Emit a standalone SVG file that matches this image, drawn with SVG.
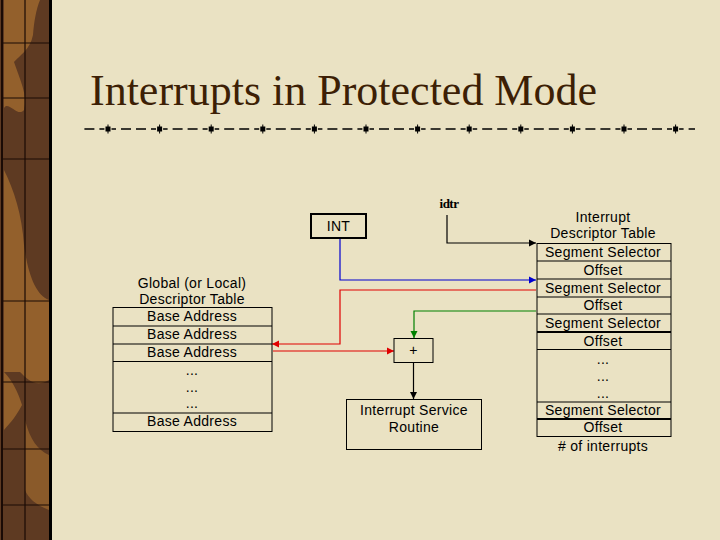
<svg xmlns="http://www.w3.org/2000/svg" width="720" height="540" viewBox="0 0 720 540">
<style>
.t{font-family:"Liberation Sans",Arial,sans-serif;font-size:14px;letter-spacing:0.3px;fill:#000;text-anchor:middle}
.box{fill:none;stroke:#000;stroke-width:1}
.row{stroke:#000;stroke-width:1}
.thick{stroke:#000;stroke-width:2}
.grid{stroke:#1a0a05;stroke-width:1.2}
</style>
<defs>
<marker id="ak" markerUnits="userSpaceOnUse" markerWidth="8" markerHeight="8" refX="7" refY="4" orient="auto"><path d="M0,0.5 L7,4 L0,7.5 z" fill="#000"/></marker>
<marker id="ab" markerUnits="userSpaceOnUse" markerWidth="8" markerHeight="8" refX="7" refY="4" orient="auto"><path d="M0,0.5 L7,4 L0,7.5 z" fill="#0000d0"/></marker>
<marker id="ar" markerUnits="userSpaceOnUse" markerWidth="8" markerHeight="8" refX="7" refY="4" orient="auto"><path d="M0,0.5 L7,4 L0,7.5 z" fill="#e00000"/></marker>
<marker id="ag" markerUnits="userSpaceOnUse" markerWidth="8" markerHeight="8" refX="7" refY="4" orient="auto"><path d="M0,0.5 L7,4 L0,7.5 z" fill="#008000"/></marker>
<g id="sq"><rect x="-2.5" y="-2.5" width="5" height="5" fill="#000"/><line x1="0" y1="-4.5" x2="0" y2="4.5" stroke="#000" stroke-width="1"/></g>
</defs>
<!-- background -->
<rect x="0" y="0" width="720" height="540" fill="#EAE2C3"/>
<!-- left border strip -->
<g id="border">
<rect x="0" y="0" width="49" height="540" fill="#5e3a22"/>
<path d="M0,0 L40,0 C36,10 34,22 33,35 C30,50 20,55 14,62 C20,80 28,95 24,110 C18,118 8,100 4,108 L4,0 Z" fill="#93602c"/>
<path d="M4,170 C14,190 22,215 24,245 C28,275 36,295 49,300 L49,380 C36,388 28,380 20,372 L4,372 Z" fill="#93602c"/>
<path d="M4,372 C12,380 18,392 22,405 C14,420 8,425 4,430 Z" fill="#93602c"/>
<path d="M25,420 C30,440 38,450 49,455 L49,510 C36,505 28,498 25,490 Z" fill="#8a5a2a"/>
<line x1="2" y1="0" x2="2" y2="540" stroke="#1a0a05" stroke-width="2"/>
<line x1="25" y1="0" x2="25" y2="540" class="grid"/>
<line x1="3" y1="43" x2="49" y2="43" class="grid"/>
<line x1="3" y1="98" x2="49" y2="98" class="grid"/>
<line x1="3" y1="159" x2="49" y2="159" class="grid"/>
<line x1="3" y1="301" x2="49" y2="301" class="grid"/>
<line x1="3" y1="382" x2="49" y2="382" class="grid"/>
<line x1="3" y1="449" x2="49" y2="449" class="grid"/>
<line x1="3" y1="505" x2="49" y2="505" class="grid"/>
<line x1="50.5" y1="0" x2="50.5" y2="540" stroke="#000" stroke-width="3"/>
</g>
<!-- title -->
<text x="90" y="105" font-family="'Liberation Serif','Times New Roman',serif" font-size="44" fill="#3d1f05" textLength="507" lengthAdjust="spacing">Interrupts in Protected Mode</text>
<!-- dashed rule -->
<g id="rule">
<line x1="83" y1="129" x2="695" y2="129" stroke="#000" stroke-width="1.3" stroke-dasharray="4.5 5 10 5 10 5 5 7.1" stroke-dashoffset="23.1"/>
<use href="#sq" x="108" y="129"/><use href="#sq" x="159.6" y="129"/><use href="#sq" x="211.2" y="129"/><use href="#sq" x="262.8" y="129"/>
<use href="#sq" x="314.4" y="129"/><use href="#sq" x="366" y="129"/><use href="#sq" x="417.6" y="129"/><use href="#sq" x="469.2" y="129"/>
<use href="#sq" x="520.8" y="129"/><use href="#sq" x="572.4" y="129"/><use href="#sq" x="624" y="129"/><use href="#sq" x="675.6" y="129"/>
</g>
<!-- connectors -->
<g id="connectors" fill="none" stroke-width="1.2">
<polyline points="447,215 447,243 536,243" stroke="#000" marker-end="url(#ak)"/>
<polyline points="340,238 340,280 536,280" stroke="#0000d0" marker-end="url(#ab)"/>
<polyline points="536,290 340,290 340,344 272,344" stroke="#e00000" marker-end="url(#ar)"/>
<line x1="273" y1="351" x2="394" y2="351" stroke="#e00000" marker-end="url(#ar)"/>
<polyline points="536,311 414,311 414,338" stroke="#008000" marker-end="url(#ag)"/>
<line x1="413.5" y1="362" x2="413.5" y2="399" stroke="#000" marker-end="url(#ak)"/>
</g>
<!-- idtr -->
<g id="idtr"><text x="449" y="208" font-family="'Liberation Serif','Times New Roman',serif" font-weight="bold" font-size="13" text-anchor="middle" letter-spacing="-0.5">idtr</text></g>
<!-- INT -->
<g id="int">
<rect x="311" y="214" width="55" height="24" fill="none" stroke="#000" stroke-width="2"/>
<text class="t" x="338.5" y="231">INT</text>
</g>
<!-- plus -->
<g id="plus">
<rect x="394" y="338.5" width="39" height="24" class="box"/>
<text class="t" x="413.5" y="355">+</text>
</g>
<!-- ISR -->
<g id="isr">
<rect x="346.5" y="399.5" width="135" height="50" class="box"/>
<text class="t" x="414" y="415">Interrupt Service</text>
<text class="t" x="414" y="432">Routine</text>
</g>
<!-- GDT -->
<g id="gdt">
<text class="t" x="192" y="288">Global (or Local)</text>
<text class="t" x="192" y="304">Descriptor Table</text>
<rect x="113" y="307.5" width="159" height="124" class="box"/>
<line x1="113" y1="326" x2="272" y2="326" class="row"/>
<line x1="113" y1="344" x2="272" y2="344" class="row"/>
<line x1="113" y1="361.5" x2="272" y2="361.5" class="row"/>
<line x1="113" y1="413" x2="272" y2="413" class="row"/>
<text class="t" x="192" y="321">Base Address</text>
<text class="t" x="192" y="339">Base Address</text>
<text class="t" x="192" y="357">Base Address</text>
<text class="t" x="192" y="375">...</text>
<text class="t" x="192" y="392">...</text>
<text class="t" x="192" y="408">...</text>
<text class="t" x="192" y="426">Base Address</text>
</g>
<!-- IDT -->
<g id="idt">
<text class="t" x="603" y="222">Interrupt</text>
<text class="t" x="603" y="238">Descriptor Table</text>
<rect x="537" y="243.5" width="134" height="193" class="box"/>
<line x1="537" y1="261" x2="671" y2="261" class="row"/>
<line x1="537" y1="279" x2="671" y2="279" class="row"/>
<line x1="537" y1="297" x2="671" y2="297" class="row"/>
<line x1="537" y1="314" x2="671" y2="314" class="row"/>
<line x1="537" y1="332" x2="671" y2="332" class="thick"/>
<line x1="537" y1="349.5" x2="671" y2="349.5" class="row"/>
<line x1="537" y1="402" x2="671" y2="402" class="row"/>
<line x1="537" y1="419" x2="671" y2="419" class="thick"/>
<text class="t" x="603" y="257">Segment Selector</text>
<text class="t" x="603" y="275">Offset</text>
<text class="t" x="603" y="292.5">Segment Selector</text>
<text class="t" x="603" y="310">Offset</text>
<text class="t" x="603" y="328">Segment Selector</text>
<text class="t" x="603" y="345.5">Offset</text>
<text class="t" x="603" y="364">...</text>
<text class="t" x="603" y="381">...</text>
<text class="t" x="603" y="398">...</text>
<text class="t" x="603" y="415">Segment Selector</text>
<text class="t" x="603" y="432">Offset</text>
<text class="t" x="603" y="451"># of interrupts</text>
</g>
</svg>
